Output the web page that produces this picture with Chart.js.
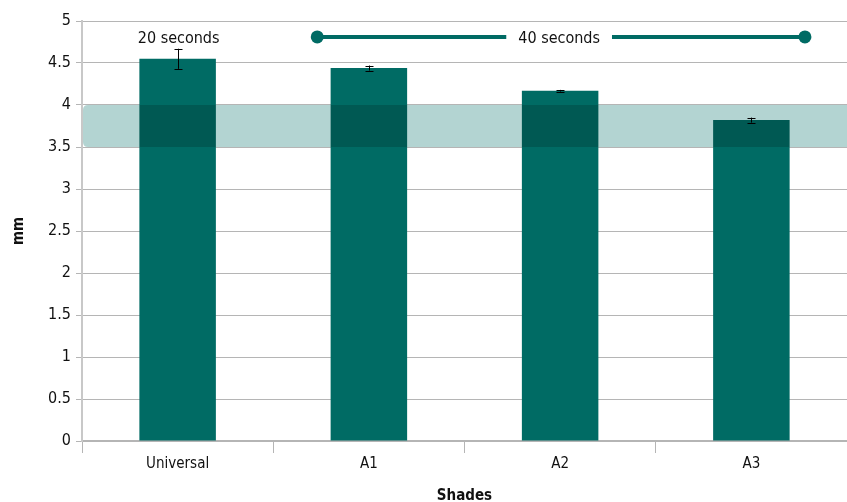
<!DOCTYPE html>
<html>
<head>
<meta charset="utf-8">
<script src="https://cdn.jsdelivr.net/npm/chart.js@4.4.1/dist/chart.umd.min.js"></script>
<style>
html,body{margin:0;padding:0;background:#fff;}
#wrap{width:847px;height:502px;}
</style>
</head>
<body>
<div id="wrap"><canvas id="c" width="847" height="502"></canvas></div>
<script>
const categories = ['Universal', 'A1', 'A2', 'A3'];
const values = [4.55, 4.44, 4.17, 3.82];
const errors = [0.12, 0.03, 0.01, 0.03];
const yTicks = [0, 0.5, 1, 1.5, 2, 2.5, 3, 3.5, 4, 4.5, 5];
const bandRange = [3.5, 4.0];
const label20 = '20 seconds';
const label40 = '40 seconds';

const FONT = '"DejaVu Sans Condensed", "Liberation Sans Narrow", "Liberation Sans", Arial, sans-serif';
const TEAL = '#006b64';

const overlayPlugin = {
  id: 'overlay',
  afterDatasetsDraw(chart) {
    const {ctx, chartArea, scales: {x, y}} = chart;
    const yt = y.getPixelForValue(bandRange[1]);
    const yb = y.getPixelForValue(bandRange[0]);
    ctx.save();
    ctx.globalCompositeOperation = 'multiply';
    ctx.fillStyle = '#b3d4d2';
    const l = chartArea.left + 1, r = chartArea.right + 6, rad = 5;
    ctx.beginPath();
    ctx.moveTo(l + rad, yt);
    ctx.lineTo(r, yt);
    ctx.lineTo(r, yb);
    ctx.lineTo(l + rad, yb);
    ctx.quadraticCurveTo(l, yb, l, yb - rad);
    ctx.lineTo(l, yt + rad);
    ctx.quadraticCurveTo(l, yt, l + rad, yt);
    ctx.closePath();
    ctx.fill();
    ctx.restore();

    ctx.save();
    ctx.strokeStyle = '#000';
    ctx.lineWidth = 1;
    values.forEach((v, i) => {
      const px = Math.round(x.getPixelForValue(i)) + 0.5;
      const t = y.getPixelForValue(v + errors[i]);
      const b = y.getPixelForValue(v - errors[i]);
      ctx.beginPath();
      ctx.moveTo(px, t); ctx.lineTo(px, b);
      ctx.moveTo(px - 4, Math.round(t) + 0.5); ctx.lineTo(px + 4, Math.round(t) + 0.5);
      ctx.moveTo(px - 4, Math.round(b) + 0.5); ctx.lineTo(px + 4, Math.round(b) + 0.5);
      ctx.stroke();
    });
    ctx.restore();

    ctx.save();
    ctx.font = '16px ' + FONT;
    ctx.fillStyle = '#111';
    ctx.textAlign = 'center';
    ctx.textBaseline = 'middle';
    ctx.fillText(label20, x.getPixelForValue(0) + 1, y.getPixelForValue(4.79));
    const cx = x.getPixelForValue(2) - 1;
    const ly = y.getPixelForValue(4.81);
    ctx.fillText(label40, cx, ly + 2);
    const x1 = x.getPixelForValue(0.73), x2 = x.getPixelForValue(3.28);
    const tw = ctx.measureText(label40).width;
    ctx.strokeStyle = TEAL;
    ctx.lineWidth = 4;
    ctx.beginPath();
    ctx.moveTo(x1, ly); ctx.lineTo(cx - tw / 2 - 12, ly);
    ctx.moveTo(cx + tw / 2 + 12, ly); ctx.lineTo(x2, ly);
    ctx.stroke();
    ctx.fillStyle = TEAL;
    [x1, x2].forEach(px => {
      ctx.beginPath();
      ctx.arc(px, ly, 6.5, 0, Math.PI * 2);
      ctx.fill();
    });
    ctx.restore();
  }
};

new Chart(document.getElementById('c'), {
  type: 'bar',
  data: {
    labels: categories,
    datasets: [{
      data: values,
      backgroundColor: TEAL,
      borderWidth: 0,
      barPercentage: 0.4,
      categoryPercentage: 1.0
    }]
  },
  options: {
    responsive: false,
    animation: false,
    layout: {padding: {top: 21, right: 0, left: 0, bottom: 0}},
    plugins: {legend: {display: false}, tooltip: {enabled: false}},
    scales: {
      x: {
        grid: {display: true, drawOnChartArea: false, offset: true, color: '#b5b5b5', tickLength: 12, lineWidth: 1},
        border: {display: true, color: '#b5b5b5', width: 2},
        ticks: {color: '#111', font: {family: FONT, size: 15}, padding: 2},
        title: {display: true, text: 'Shades', color: '#111', font: {family: FONT, size: 15, weight: 'bold'}, padding: {top: 24, bottom: -3}},
        afterFit(s) { s.height = 61; }
      },
      y: {
        min: 0, max: 5,
        afterBuildTicks(s) { s.ticks = yTicks.map(v => ({value: v})); },
        grid: {color: '#b5b5b5', tickLength: 6, lineWidth: 1},
        border: {display: true, color: '#c8c8c8', width: 2},
        ticks: {color: '#111', font: {family: FONT, size: 16}, padding: 5, callback: v => String(v)},
        title: {display: true, text: 'mm', color: '#111', font: {family: FONT, size: 15, weight: 'bold'}, padding: {top: 10, bottom: 14}},
        afterFit(s) { s.width = 82; }
      }
    }
  },
  plugins: [overlayPlugin]
});
</script>
</body>
</html>
